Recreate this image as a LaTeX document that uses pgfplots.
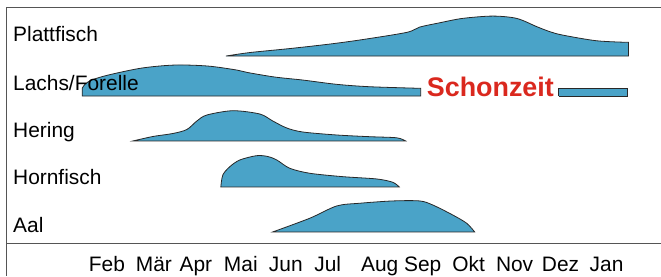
\documentclass[border=0pt]{standalone}
\usepackage{fontspec}
\setmainfont{Liberation Sans}
\usepackage{pgfplots}
\pgfplotsset{compat=1.18}
\usepgfplotslibrary{fillbetween}
\definecolor{fishblue}{RGB}{74,163,200}
\definecolor{edgecol}{RGB}{40,40,40}
\definecolor{framegray}{RGB}{85,85,85}
\definecolor{schon}{RGB}{218,40,30}
\begin{document}
\begin{tikzpicture}
\begin{axis}[
  scale only axis, width=661bp, height=276bp,
  xmin=0, xmax=661, ymin=0, ymax=276,
  axis line style={draw=none},
  ytick=\empty,
  xtick={107,154,196,241,286,328,380,423,469,515,561,607},
  xticklabels={Feb,Mär,Apr,Mai,Jun,Jul,Aug,Sep,Okt,Nov,Dez,Jan},
  major tick length=0pt,
  xticklabel style={anchor=base, yshift=4bp, inner sep=0pt, font=\fontsize{21}{25}\selectfont},
  clip=false,
  fishshape/.style={fill=fishblue, draw=edgecol, line width=0.8bp},
]
% frame
\draw[framegray, line width=1bp] (axis cs:661,269) -- (axis cs:7,269) -- (axis cs:7,0);
\draw[framegray, line width=1bp] (axis cs:7,32) -- (axis cs:661,32);

% Plattfisch
\addplot[name path=pT, smooth, draw=none] coordinates {
 (226,220) (250,223.5) (290,227.5) (330,232) (363,236.5) (407,243.7) (420,249)
 (440,253.3) (463,257.7) (493,260) (517,257.7) (537,249.5) (550,244.5) (563,241)
 (597,235.3) (629,233.7)};
\addplot[name path=pB, draw=none] coordinates {(226,220) (629,220)};
\addplot[fishshape] fill between[of=pT and pB];

% Lachs/Forelle
\addplot[name path=lT, smooth, draw=none] coordinates {
 (82.3,187.7) (85,191.7) (91.7,196) (108.3,201) (142,208) (175,211) (208,210)
 (237,206) (248,203.5) (275,199) (303,196) (337,191.7) (370,189.3) (421,187.7)};
\addplot[name path=lB, draw=none] coordinates {(82.3,180) (421,180)};
\addplot[fishshape] fill between[of=lT and lB];
\addplot[fishshape, sharp plot] coordinates {(559,180) (559,187.7) (628,187.7) (628,180) (559,180)};

% Hering
\addplot[name path=hT, smooth, draw=none] coordinates {
 (133,135) (153,139.5) (173,142.5) (187,146.5) (197,155) (207,161) (233,165.3)
 (260,162) (273,155) (287,148) (303,144) (337,141) (370,139.3) (397,138.2) (406,135)};
\addplot[name path=hB, draw=none] coordinates {(133,135) (406,135)};
\addplot[fishshape] fill between[of=hT and hB];

% Hornfisch
\addplot[name path=nT, smooth, draw=none] coordinates {
 (221,89) (223,101) (230,109.3) (240,116) (256.7,120.3) (268,119.5) (277,116)
 (290,107.7) (310,102.7) (343,99.3) (377,97) (393,93.7) (399.5,89)};
\addplot[name path=nB, draw=none] coordinates {(221,89) (399.5,89)};
\addplot[fishshape] fill between[of=nT and nB];

% Aal
\addplot[name path=aT, smooth, draw=none] coordinates {
 (273,44) (310,57.7) (337,70) (360,72.7) (393,75) (420,75) (433,71) (453,61)
 (467,52.7) (475,44)};
\addplot[name path=aB, draw=none] coordinates {(273,44) (475,44)};
\addplot[fishshape] fill between[of=aT and aB];

% labels
\node[anchor=base west, inner sep=0pt, font=\fontsize{21}{25}\selectfont] at (axis cs:13,234.3) {Plattfisch};
\node[anchor=base west, inner sep=0pt, font=\fontsize{21}{25}\selectfont] at (axis cs:13,186) {Lachs/Forelle};
\node[anchor=base west, inner sep=0pt, font=\fontsize{21}{25}\selectfont] at (axis cs:13,138.5) {Hering};
\node[anchor=base west, inner sep=0pt, font=\fontsize{21}{25}\selectfont] at (axis cs:13,91) {Hornfisch};
\node[anchor=base west, inner sep=0pt, font=\fontsize{21}{25}\selectfont] at (axis cs:13,43.4) {Aal};
\node[anchor=base west, inner sep=0pt, text=schon, font=\fontsize{27}{32}\selectfont\bfseries] at (axis cs:427,179.3) {Schonzeit};
\end{axis}
\end{tikzpicture}
\end{document}
